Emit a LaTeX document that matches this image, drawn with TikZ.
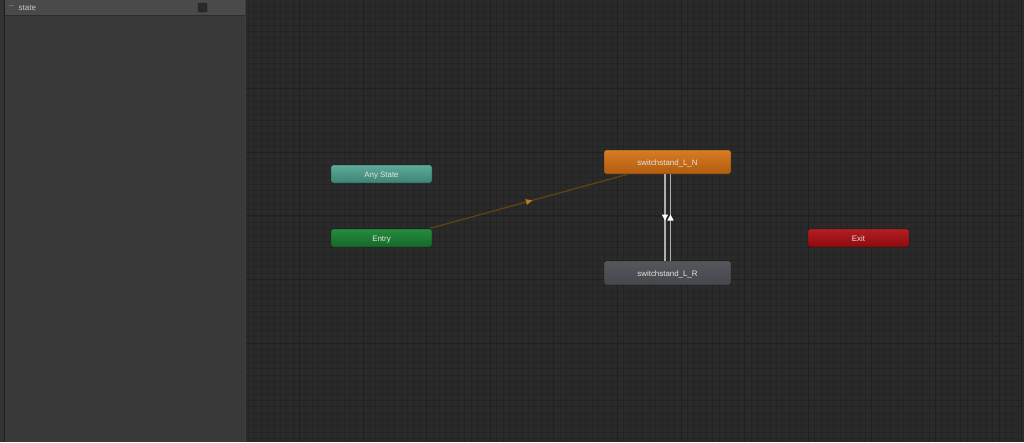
\documentclass[tikz,border=0pt]{standalone}
\usepackage{fontspec}
\setmainfont{Liberation Sans}
\usetikzlibrary{shadings,decorations.markings,arrows.meta}
\definecolor{graphbg}{HTML}{2A2A2A}
\definecolor{fineline}{HTML}{242424}
\definecolor{majorline}{HTML}{202020}
\definecolor{panelbg}{HTML}{393939}
\definecolor{headerbg}{HTML}{4A4A4A}
\definecolor{nodetext}{HTML}{E4E4E4}
\definecolor{stripbg}{HTML}{333333}
\definecolor{stripline}{HTML}{1E1E1E}
\definecolor{paneledge}{HTML}{3E3E3E}
\definecolor{headerline}{HTML}{2C2C2C}
\definecolor{icongray}{HTML}{6E6E6E}
\definecolor{titlegray}{HTML}{C8C8C8}
\definecolor{boxfill}{HTML}{2A2A2A}
\definecolor{anytop}{HTML}{5CAA9A}
\definecolor{anybot}{HTML}{3E8476}
\definecolor{entrytop}{HTML}{248C3C}
\definecolor{entrybot}{HTML}{16682A}
\definecolor{exittop}{HTML}{B41E22}
\definecolor{exitbot}{HTML}{8C0A0E}
\definecolor{lntop}{HTML}{D87C22}
\definecolor{lnbot}{HTML}{B05C10}
\definecolor{lrtop}{HTML}{55575C}
\definecolor{lrbot}{HTML}{45474C}
\definecolor{linkbrown}{HTML}{5E4214}
\definecolor{linkhead}{HTML}{B8781C}
\definecolor{duallinecol}{HTML}{AEAEAE}
\definecolor{nodeborder}{HTML}{1A1A1A}
\tikzset{
  statebox/.style={rounded corners=2pt, minimum width=101pt, minimum height=18pt, inner sep=0pt,
    font=\fontsize{7.9}{10}\selectfont, text=nodetext, draw=nodeborder, line width=0.4pt,
    text height=0.72em, text depth=0pt},
  bigbox/.style={statebox, minimum width=127pt, minimum height=24pt},
  fine/.style={draw=fineline, line width=0.6pt},
  major/.style={draw=majorline, line width=0.7pt},
  entrylink/.style={draw=linkbrown, line width=1.3pt,
    postaction={decorate},
    decoration={markings, mark=at position 0.5 with {\fill[linkhead] (3.5pt,0) -- (-3pt,3pt) -- (-3pt,-3pt) -- cycle;}}},
  duallink/.style={draw=duallinecol, line width=1.1pt,
    postaction={decorate},
    decoration={markings, mark=at position 0.5 with {\fill[white] (3pt,0) -- (-3pt,3.2pt) -- (-3pt,-3.2pt) -- cycle;}}}
}
\begin{document}
\begin{tikzpicture}[x=1pt,y=-1pt]
\useasboundingbox (0,0) rectangle (1024,442);
% graph background
\fill[graphbg] (0,0) rectangle (1024,442);
\begin{scope}
\clip (246,0) rectangle (1021,442);
\foreach \i in {38,...,161} \draw[fine] ({0.38+6.36*\i},0) -- ++(0,442);
\foreach \i in {0,...,70} \draw[fine] (246,{5.92+6.36*\i}) -- ++(780,0);
\foreach \i in {0,...,11} \draw[major] ({299.3+63.6*\i},0) -- ++(0,442);
\foreach \i in {0,...,6} \draw[major] (246,{25+63.6*\i}) -- ++(780,0);
\end{scope}
\draw[majorline, line width=1pt] (1021,0) -- (1021,442);
% left panel
\fill[stripbg] (0,0) rectangle (4,442);
\fill[panelbg] (4.5,0) rectangle (245,442);
\draw[stripline, line width=1pt] (4.5,0) -- (4.5,442);
\draw[paneledge, line width=1pt] (245.5,0) -- (245.5,442);
\fill[headerbg] (5,0) rectangle (245,14.5);
\draw[headerline, line width=0.8pt] (5,15) -- (245,15);
\draw[icongray, line width=1pt] (8.5,5) -- (13.5,5);
\node[anchor=west, inner sep=0pt, font=\fontsize{8}{10}\selectfont, text=titlegray] (paneltitle) at (18.5,7.5) {state};
\node[draw=stripline, fill=boxfill, minimum size=9pt, inner sep=0pt, rounded corners=0.8pt] (panelbox) at (202.5,7.5) {};
% states
\node[statebox, top color=anytop, bottom color=anybot] (any) at (381.5,174) {Any State};
\node[statebox, top color=entrytop, bottom color=entrybot] (entry) at (381.5,238) {Entry};
\node[statebox, top color=exittop, bottom color=exitbot] (exit) at (858.5,238) {Exit};
\node[bigbox, top color=lntop, bottom color=lnbot] (ln) at (667.5,162) {switchstand\_L\_N};
\node[bigbox, top color=lrtop, bottom color=lrbot] (lr) at (667.5,273) {switchstand\_L\_R};
% transitions
\draw[entrylink] ([xshift=-2pt,yshift=0.5pt]entry.north east) -- ([xshift=24pt]ln.south west);
\draw[duallink] ([xshift=-2.5pt]ln.south) -- ([xshift=-2.5pt]lr.north);
\draw[duallink] ([xshift=3pt]lr.north) -- ([xshift=3pt]ln.south);
\end{tikzpicture}
\end{document}
